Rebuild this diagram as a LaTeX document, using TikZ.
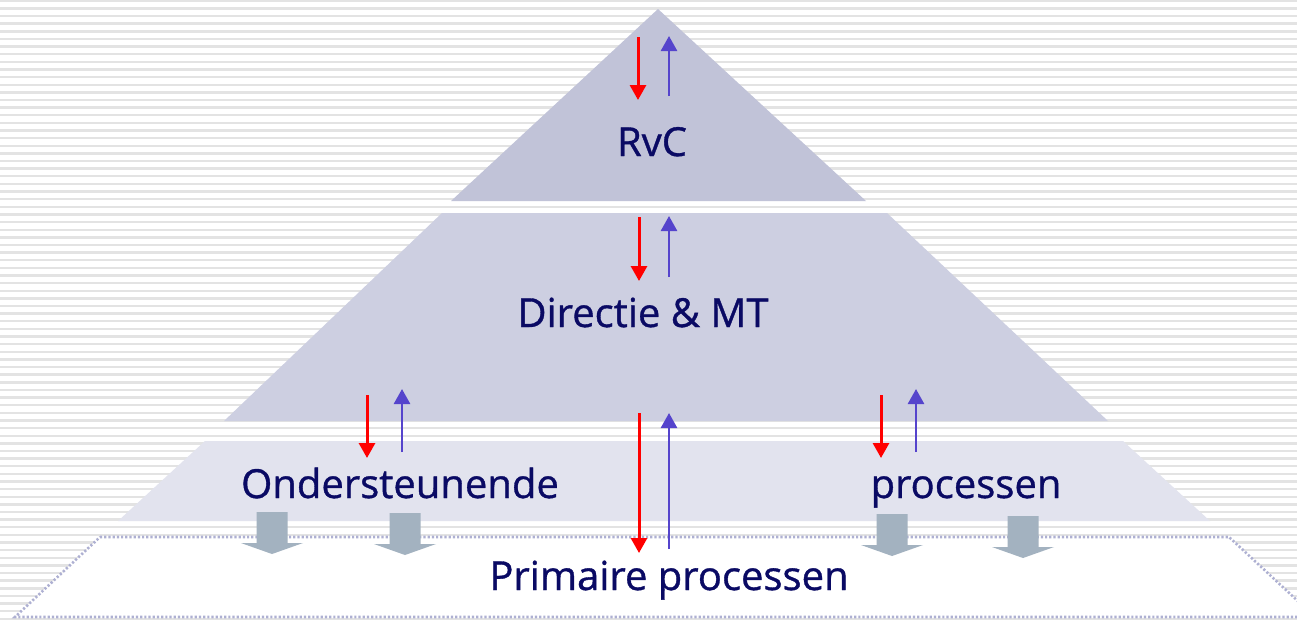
\documentclass[tikz,border=0pt]{standalone}
\usepackage{fontspec}
\setmainfont{Open Sans}
\newfontfamily\layerfont{Open Sans}[FakeBold=0.9]
\usetikzlibrary{arrows.meta}
\definecolor{layertop}{HTML}{C1C3D8}
\definecolor{layermid}{HTML}{CDCFE1}
\definecolor{layerlow}{HTML}{E2E3EE}
\definecolor{dotline}{HTML}{AEB0D2}
\definecolor{stripegray}{HTML}{E3E3E3}
\definecolor{upblue}{HTML}{5544CC}
\definecolor{blockgray}{HTML}{A3B2C0}
\definecolor{textnavy}{HTML}{0A0A64}

\begin{document}
\begin{tikzpicture}[x=1pt,y=-1pt,
    stripe/.style={draw=stripegray,line width=2.4pt},
    downarrow/.style={draw=red,line width=3pt,-{Triangle[width=16pt,length=15pt]}},
    uparrow/.style={draw=upblue,line width=2.6pt,-{Triangle[width=16pt,length=15pt]}},
    layerlabel/.style={text=textnavy,font=\layerfont\fontsize{40}{40}\selectfont,inner sep=0pt,anchor=base}]
    \useasboundingbox (0,0) rectangle (1297,619);
    \fill [white] (0,0) rectangle (1297,619);
    % striped background
    \foreach \i in {0,...,81}
        \draw [stripe] (0,0.8+7.63*\i) -- ++(1297,0);
    % layers of the pyramid
    \fill [layertop] (658,9) -- (866,201) -- (451,201) -- cycle;
    \fill [layermid] (442,213) -- (887,213) -- (1108,421) -- (224,421) -- cycle;
    \fill [layerlow] (205,441) -- (1123,441) -- (1210,521) -- (118,521) -- cycle;
    \draw [dotline,fill=white,line width=2.6pt,dash pattern=on 2.2pt off 2pt]
        (100,537) -- (1229,537) -- (1315,617) -- (15,617) -- cycle;
    % block arrows
    \foreach \x/\t in {272/512, 405/513, 892/514, 1023/516}
        \fill [blockgray] (\x-15.5,\t) -- (\x+15.5,\t) -- (\x+15.5,\t+31)
            -- (\x+31,\t+31) -- (\x,\t+42) -- (\x-31,\t+31) -- (\x-15.5,\t+31) -- cycle;
    % red down, blue up
    \draw [downarrow] (638,37) -- (638,100);
    \draw [uparrow] (669,96) -- (669,36);
    \draw [downarrow] (639,217) -- (639,281);
    \draw [uparrow] (669,277) -- (669,216);
    \draw [downarrow] (367,395) -- (367,458);
    \draw [uparrow] (402,452) -- (402,389);
    \draw [downarrow] (881,395) -- (881,458);
    \draw [uparrow] (916,452) -- (916,389);
    \draw [downarrow] (639,413) -- (639,553);
    \draw [uparrow] (669,549) -- (669,413);
    % labels
    \node [layerlabel] (rvc) at (652,156) {RvC};
    \node [layerlabel] (directie) at (643,327) {Directie \& MT};
    \node [layerlabel] (onderst) at (400,498) {Ondersteunende};
    \node [layerlabel] (proc) at (966,498) {processen};
    \node [layerlabel] (primair) at (669,590) {Primaire processen};
\end{tikzpicture}
\end{document}
